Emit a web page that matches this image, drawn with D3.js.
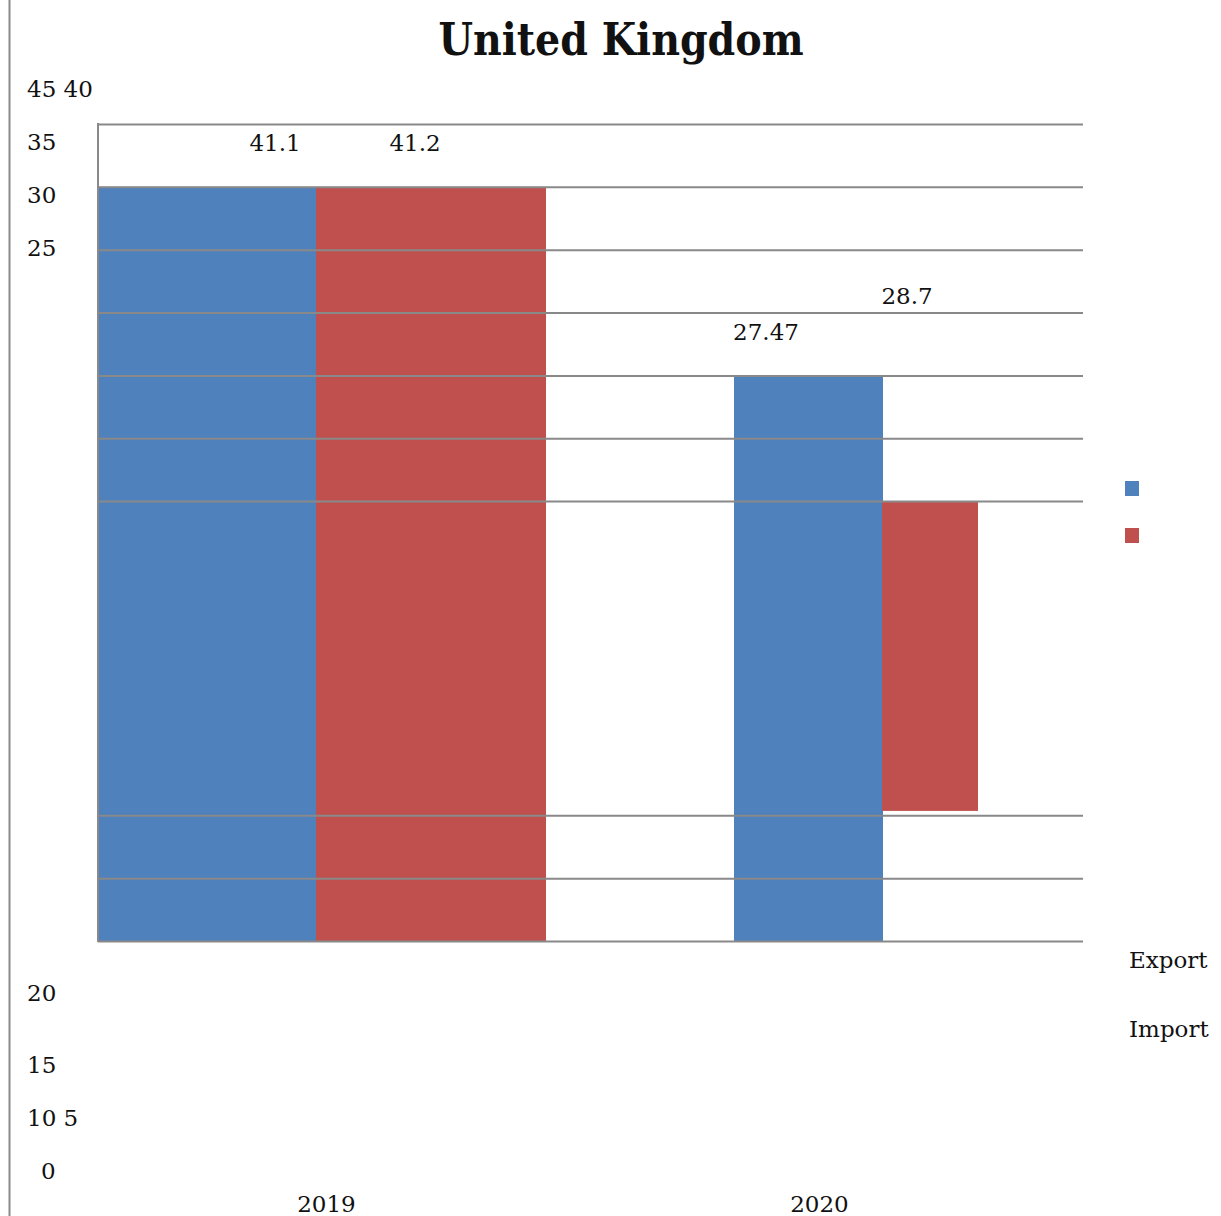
<!DOCTYPE html>
<html>
<head>
<meta charset="utf-8">
<script src="https://cdn.jsdelivr.net/npm/d3@7"></script>
<style>
  html, body { margin: 0; padding: 0; background: #fff; }
  svg { display: block; }
  text { font-family: "DejaVu Serif", serif; fill: #111; }
</style>
</head>
<body>
<svg id="chart" width="1221" height="1216"></svg>
<script>
// ---- data ----
const categories = ["2019", "2020"];
const seriesNames = ["Export", "Import"];
// printed value labels
const exportValues = [41.1, 27.47];
const importValues = [41.2, 28.7];
// bar extents on the plot's gridline scale (one unit per gridline step)
const exportTops = [12, 9];
const exportBases = [0, 0];
const importTops = [12, 7];
const importBases = [0, 2.07];
// gridlines that are drawn (the middle band has none)
const gridValues = [0, 1, 2, 7, 8, 9, 10, 11, 12, 13];
// axis tick labels as they are set out on the left
const tickLabelsTop = ["45 40", "35", "30", "25"];
const tickLabelsBottom = ["20", "15", "10 5", "0"];

// ---- layout ----
const colors = { Export: "#4F81BD", Import: "#C0504D" };
const gridColor = "#898989";
const plot = { left: 98, right: 1083, top: 124, bottom: 941 };
const fontSize = 23;

const svg = d3.select("#chart");

const y = d3.scaleLinear().domain([0, 13]).range([plot.bottom, plot.top]);
const x = d3.scaleBand().domain(categories).range([80, 1066]);

// per-bar horizontal offsets within each category band [start, end]
const barSpans = {
  "2019": { Export: [19, 236], Import: [236, 466] },
  "2020": { Export: [161, 310], Import: [309, 405] }
};

// page rule on the far left
svg.append("line")
  .attr("x1", 9.5).attr("x2", 9.5).attr("y1", 0).attr("y2", 1216)
  .attr("stroke", gridColor).attr("stroke-width", 2);

// title
svg.append("text")
  .attr("x", 621).attr("y", 55)
  .attr("text-anchor", "middle")
  .style("font-family", "'DejaVu Serif Condensed', 'DejaVu Serif', serif")
  .style("font-stretch", "condensed")
  .style("font-weight", "bold")
  .style("font-size", "44px")
  .text("United Kingdom");

// bars
const bars = [];
categories.forEach((c, i) => {
  bars.push({ cat: c, series: "Export", base: exportBases[i], top: exportTops[i], value: exportValues[i] });
  bars.push({ cat: c, series: "Import", base: importBases[i], top: importTops[i], value: importValues[i] });
});

svg.append("g").selectAll("rect")
  .data(bars)
  .join("rect")
  .attr("x", d => x(d.cat) + barSpans[d.cat][d.series][0])
  .attr("width", d => barSpans[d.cat][d.series][1] - barSpans[d.cat][d.series][0])
  .attr("y", d => y(d.top))
  .attr("height", d => y(d.base) - y(d.top))
  .attr("fill", d => colors[d.series]);

// gridlines, drawn over the bars
const yAxis = d3.axisLeft(y).tickValues(gridValues)
  .tickSize(-(plot.right - plot.left)).tickFormat("");
const gAxis = svg.append("g")
  .attr("transform", `translate(${plot.left},0)`)
  .call(yAxis);
gAxis.select(".domain").remove();
gAxis.selectAll(".tick line")
  .attr("stroke", gridColor).attr("stroke-width", 2);

// left plot edge
svg.append("line")
  .attr("x1", plot.left).attr("x2", plot.left)
  .attr("y1", y(13) - 1).attr("y2", y(0) + 1)
  .attr("stroke", gridColor).attr("stroke-width", 2);

// value labels
const labelPos = {
  "2019": { Export: [275, 151], Import: [415, 151] },
  "2020": { Export: [766, 340], Import: [907, 304] }
};
svg.append("g").selectAll("text")
  .data(bars)
  .join("text")
  .attr("x", d => labelPos[d.cat][d.series][0])
  .attr("y", d => labelPos[d.cat][d.series][1])
  .attr("text-anchor", "middle")
  .style("font-size", fontSize + "px")
  .text(d => d.value);

// y tick labels
const topBaselines = [97, 150, 203, 256];
const bottomBaselines = [1001, 1073, 1126, 1179];
svg.append("g").selectAll("text")
  .data(tickLabelsTop)
  .join("text")
  .attr("x", 27).attr("y", (d, i) => topBaselines[i])
  .style("font-size", fontSize + "px")
  .text(d => d);
svg.append("g").selectAll("text")
  .data(tickLabelsBottom)
  .join("text")
  .attr("x", d => d === "0" ? 41 : 27).attr("y", (d, i) => bottomBaselines[i])
  .style("font-size", fontSize + "px")
  .text(d => d);

// category labels
svg.append("g").selectAll("text")
  .data(categories)
  .join("text")
  .attr("x", d => x(d) + x.bandwidth() / 2)
  .attr("y", 1212)
  .attr("text-anchor", "middle")
  .style("font-size", fontSize + "px")
  .text(d => d);

// legend swatches and names
svg.append("g").selectAll("rect")
  .data(seriesNames)
  .join("rect")
  .attr("x", 1125).attr("y", (d, i) => 481 + i * 47)
  .attr("width", 14).attr("height", 15)
  .attr("fill", d => colors[d]);
svg.append("g").selectAll("text")
  .data(seriesNames)
  .join("text")
  .attr("x", 1129).attr("y", (d, i) => 968 + i * 69)
  .style("font-size", fontSize + "px")
  .text(d => d);
</script>
</body>
</html>
